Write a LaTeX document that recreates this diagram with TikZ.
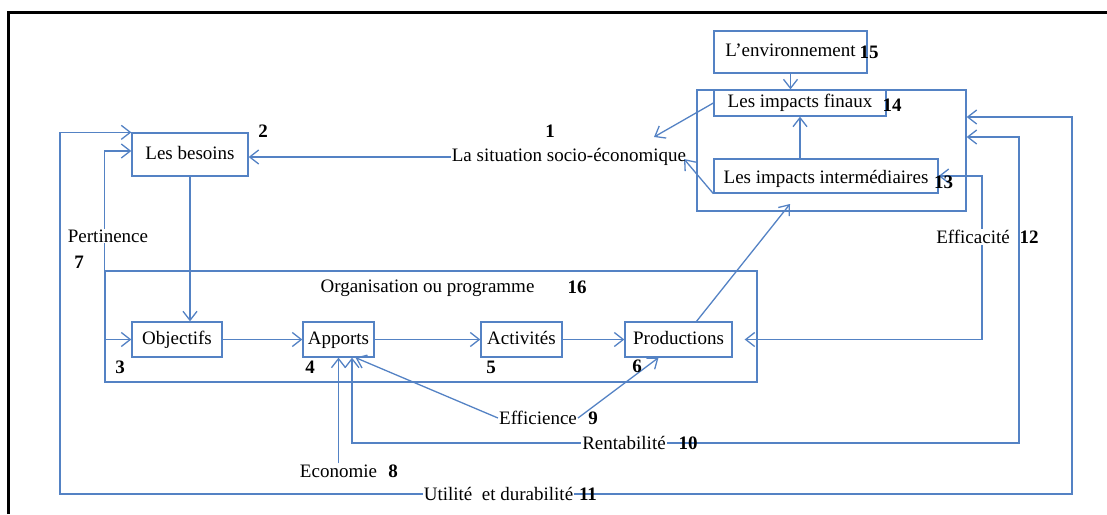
\documentclass[tikz,border=0pt]{standalone}
\usepackage{fontspec}
\setmainfont{Liberation Serif}
\usetikzlibrary{arrows.meta,backgrounds}
\definecolor{lineblue}{RGB}{84,130,196}

\begin{document}
\begin{tikzpicture}[x=1pt, y=-1pt,
        every node/.style={font=\fontsize{19}{22}\selectfont},
        box/.style={draw=lineblue, line width=1.3pt, inner sep=1pt, text height=13pt, text depth=4pt},
        lbl/.style={inner sep=1pt},
        blank/.style={lbl, fill=white},
        num/.style={font=\fontsize{19}{22}\selectfont\bfseries, inner sep=0pt},
        link/.style={lineblue, line width=1.3pt, -{Straight Barb[length=9pt,width=14pt]}},
        both/.style={link, {Straight Barb[length=9pt,width=14pt]}-{Straight Barb[length=9pt,width=14pt]}}]
        \useasboundingbox (0,0) rectangle (1107,514);
        \draw[line width=3pt] (8,514) -- (8,12) -- (1107,12);

        % boxes
        \path
            (431,326.5)   node (org)       [box, minimum width=652pt, minimum height=111pt] {}
            (831.5,150.5) node (impacts)   [box, minimum width=269pt, minimum height=121pt] {}
            (190,154.5)   node (besoins)   [box, minimum width=116pt, minimum height=43pt] {Les besoins}
            (177,339.5)   node (objectifs) [box, minimum width=90pt, minimum height=35pt] {Objectifs}
            (338.5,339.5) node (apports)   [box, minimum width=71pt, minimum height=35pt] {Apports}
            (521.5,339.5) node (activites) [box, minimum width=81pt, minimum height=35pt] {Activités}
            (678.5,339.5) node (prod)      [box, minimum width=107pt, minimum height=35pt] {Productions}
            (790.5,52)    node (env)       [box, minimum width=153pt, minimum height=42pt] {L'environnement}
            (800,103)     node (finaux)    [box, minimum width=172pt, minimum height=26pt] {Les impacts finaux}
            (826,176)     node (inter)     [box, minimum width=224pt, minimum height=34pt, text height=19pt] {Les impacts intermédiaires};

        % labels
        \path
            (569,157)     node (situation)  [lbl]   {La situation socio-économique}
            (108,236)     node (pertinence) [blank] {Pertinence}
            (427.5,288)   node (orgtext)    [lbl]   {Organisation ou programme}
            (973,237)     node (efficacite) [blank] {Efficacité}
            (538,418)     node (efficience) [lbl]   {Efficience}
            (624,443)     node (rentab)     [blank] {Rentabilité}
            (338.5,471)   node (economie)   [lbl]   {Economie}
            (498.5,494)   node (utilite)    [blank] {Utilité\ \ et durabilité}

            (550,131)     node (n1)  [num] {1}
            (263,131)     node (n2)  [num] {2}
            (120,367)     node (n3)  [num] {3}
            (310,367)     node (n4)  [num] {4}
            (491,367)     node (n5)  [num] {5}
            (637,366)     node (n6)  [num] {6}
            (79,262)      node (n7)  [num] {7}
            (393,471)     node (n8)  [num] {8}
            (593,418)     node (n9)  [num] {9}
            (688,443)     node (n10) [num] {10}
            (588,494)     node (n11) [num] {11}
            (1029,237)    node (n12) [num] {12}
            (943.5,182)   node (n13) [num] {13}
            (892,105)     node (n14) [num] {14}
            (869,52)      node (n15) [num] {15}
            (577,287)     node (n16) [num] {16};

        \coordinate (ur) at (1072,117);
        \coordinate (ul) at (60,494);
        \coordinate (rr) at (1019,137);
        \coordinate (rl) at (352,443);
        \coordinate (pl) at (105,151);
        \coordinate (ec) at (982,339.5);
        \coordinate (s1) at (654,137);
        \coordinate (s2) at (684,159);
        \coordinate (pi) at (790,204);

        \begin{scope}[on background layer]
            % loops
            \draw[both] (impacts.east |- ur) -- (ur) |- (ul) |- (besoins.north west);
            \draw[both] (impacts.east |- rr) -- (rr) |- (rl) -- (rl |- apports.south);
            \draw[both, shorten >=12pt] (inter.east) -| (ec) -- (prod.east);
            \draw[link] (org.south west) |- (besoins.west |- pl);
            \draw[link] (org.west |- objectifs) -- (objectifs.west);

            % chain
            \draw[link] (besoins.south) -- (besoins.south |- objectifs.north);
            \draw[link] (objectifs.east) -- (apports.west);
            \draw[link] (apports.east) -- (activites.west);
            \draw[link] (activites.east) -- (prod.west);
            \draw[link] ([xshift=18pt]prod.north) -- (pi);
            \draw[link] (situation.west) -- (situation.west -| besoins.east);
            \draw[link] (finaux.west) -- (s1);
            \draw[link] (inter.south west) -- (s2);
            \draw[link] (env.south) -- (env.south |- impacts.north);
            \draw[link] (finaux.south |- inter.north) -- (finaux.south);
            \draw[link] (economie.north) -- (economie.north |- apports.south);
            \draw[link] (efficience.west) -- ([xshift=17pt]apports.south);
            \draw[link] (efficience.east) -- ([xshift=-20pt]prod.south);
        \end{scope}
    \end{tikzpicture}
\end{document}
